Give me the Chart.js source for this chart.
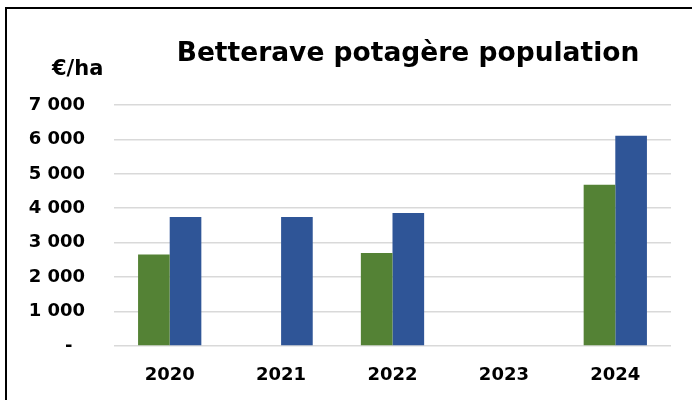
<!DOCTYPE html>
<html>
<head>
<meta charset="utf-8">
<script src="https://cdn.jsdelivr.net/npm/chart.js@4/dist/chart.umd.min.js"></script>
<style>
  html, body { margin:0; padding:0; background:#fff; overflow:hidden; }
  #wrap { position:relative; width:692px; height:400px; }
  #frame { position:absolute; left:5px; top:7px; width:720px; height:420px; border:2px solid #000; box-sizing:border-box; }
  canvas { position:absolute; left:0; top:0; }
</style>
</head>
<body>
<div id="wrap">
  <div id="frame"></div>
  <canvas id="chart" width="692" height="400"></canvas>
</div>
<script>
const years      = ['2020', '2021', '2022', '2023', '2024'];
const greenVals  = [2660, null, 2700, null, 4680];
const blueVals   = [3745, 3745, 3860, null, 6110];
const yTicks     = [0, 1000, 2000, 3000, 4000, 5000, 6000, 7000];

const TITLE = 'Betterave potagère population';
const UNIT  = '€/ha';
const FONT  = "'DejaVu Sans', sans-serif";

// title + unit label drawn on top
const headerPlugin = {
  id: 'header',
  afterDraw(chart) {
    const ctx = chart.ctx;
    ctx.save();
    ctx.fillStyle = '#000';
    ctx.textBaseline = 'alphabetic';
    ctx.font = `bold 26.5px ${FONT}`;
    ctx.textAlign = 'center';
    ctx.fillText(TITLE, 408, 61);
    ctx.font = `bold 21px ${FONT}`;
    ctx.textAlign = 'left';
    ctx.fillText(UNIT, 52, 75);
    ctx.restore();
  }
};

const fmtTick = v => v === 0 ? '-  ' : String(v).replace(/\B(?=(\d{3})+(?!\d))/g, ' ');

new Chart(document.getElementById('chart'), {
  type: 'bar',
  data: {
    labels: years,
    datasets: [
      { label: 'Série 1', data: greenVals, backgroundColor: '#548235', borderWidth: 0 },
      { label: 'Série 2', data: blueVals,  backgroundColor: '#2F5597', borderWidth: 0 }
    ]
  },
  options: {
    responsive: false, animation: false,
    layout: { padding: { top: 105, right: 21, bottom: 14, left: 0 } },
    categoryPercentage: 0.568, barPercentage: 1,
    plugins: { legend: { display: false }, tooltip: { enabled: false }, title: { display: false } },
    scales: {
      x: {
        grid: { display: false },
        border: { display: false },
        ticks: { color: '#000', font: { family: FONT, size: 18, weight: 'bold' }, padding: 11, maxRotation: 0 },
        afterFit: s => { s.height = 40; }
      },
      y: {
        min: 0, max: 7000,
        afterBuildTicks: s => { s.ticks = yTicks.map(v => ({ value: v })); },
        grid: { color: '#d9d9d9', lineWidth: 1.6, drawTicks: false },
        border: { display: false },
        ticks: { color: '#000', font: { family: FONT, size: 18, weight: 'bold' }, padding: 29, callback: fmtTick },
        afterFit: s => { s.width = 114; }
      }
    }
  },
  plugins: [headerPlugin]
});
</script>
</body>
</html>
